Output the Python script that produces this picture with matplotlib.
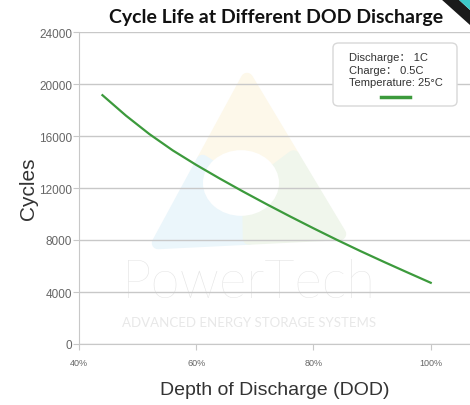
import matplotlib
matplotlib.use("Agg")
import matplotlib.pyplot as plt
from matplotlib.patches import Polygon, Circle, FancyBboxPatch

# values
dod = [44, 48, 52, 56, 60, 64, 68, 72, 76, 80, 84, 88, 92, 96, 100]
cycles = [19140, 17570, 16150, 14890, 13775, 12730, 11725, 10755, 9815,
          8900, 8010, 7150, 6320, 5510, 4710]
x_ticks = [40, 60, 80, 100]
x_ticklabels = ["40%", "60%", "80%", "100%"]
y_ticks = [0, 4000, 8000, 12000, 16000, 20000, 24000]
legend_lines = ["Discharge\uff1a 1C", "Charge\uff1a 0.5C", "Temperature: 25\u00b0C"]

W, H = 470, 406
plt.rcParams['font.family'] = ['Liberation Sans', 'Noto Sans CJK SC', 'DejaVu Sans']

fig = plt.figure(figsize=(W / 100, H / 100), dpi=100)


def fx(px):
    return px / W


def fy(py):
    return 1 - py / H


ax = fig.add_axes([fx(79), fy(345), fx(470) - fx(79), fy(33) - fy(345)])
ax.set_xlim(40, 106.7)
ax.set_ylim(0, 24000)

# faint logo watermark
A, B, C = (247, 80), (158, 244), (340, 235)
G = ((A[0] + B[0] + C[0]) / 3, (A[1] + B[1] + C[1]) / 3 + 5)
mid = lambda p, q: ((p[0] + q[0]) / 2, (p[1] + q[1]) / 2)
petals = [
    ([G, mid(A, B), A, mid(A, C)], "#fdf8ea"),
    ([G, mid(A, B), B, mid(B, C)], "#ebf6fb"),
    ([G, mid(B, C), C, mid(A, C)], "#f0f6ec"),
]
for pts, col in petals:
    fig.patches.append(Polygon([(fx(p[0]), fy(p[1])) for p in pts], closed=True,
                               transform=fig.transFigure, facecolor=col,
                               edgecolor=col, lw=9, joinstyle="round", zorder=0.5))
fig.patches.append(Circle((fx(241), fy(184)), fx(38), transform=fig.transFigure,
                          facecolor="white", edgecolor="none", zorder=0.6))
ax.set_facecolor("none")
ax.set_zorder(2)

fig.text(fx(249), fy(284), "PowerTech", fontsize=38, color="#e4e4e4",
         ha="center", va="center", family="Lato", fontweight="light", zorder=0.7)
fig.text(fx(249), fy(323), "ADVANCED ENERGY STORAGE SYSTEMS", fontsize=9.5,
         color="#e8e8e8", ha="center", va="center", family="Lato", zorder=0.7)

ax.plot(dod, cycles, color="#3c9a3c", lw=1.6, zorder=3)

ax.set_yticks(y_ticks)
ax.set_yticklabels([str(v) for v in y_ticks])
ax.set_xticks(x_ticks)
ax.set_xticklabels(x_ticklabels)
ax.grid(axis="y", color="#c8c8c8", lw=1)
ax.set_axisbelow(True)
for s in ["top", "right"]:
    ax.spines[s].set_visible(False)
for s in ["left", "bottom"]:
    ax.spines[s].set_color("#c8c8c8")
ax.tick_params(axis="y", colors="#c8c8c8", labelcolor="#666666", labelsize=8.5,
               length=4, pad=1)
ax.tick_params(axis="x", colors="#c8c8c8", labelcolor="#666666", labelsize=6.5,
               length=4, pad=6)

ax.set_ylabel("Cycles", fontsize=15, color="#333333", labelpad=1)
ax.set_xlabel("Depth of Discharge (DOD)", fontsize=14, color="#333333", labelpad=10)

fig.text(fx(276), fy(17), "Cycle Life at Different DOD Discharge", fontsize=14,
         fontweight="bold", color="#111111", ha="center", va="center",
         family="Lato")

# legend box
box = FancyBboxPatch((fx(333), fy(107)), fx(457) - fx(333), fy(44) - fy(107),
                     boxstyle="round,pad=0,rounding_size=0.012",
                     transform=fig.transFigure, facecolor="white",
                     edgecolor="#d8d8d8", lw=1, zorder=5)
fig.patches.append(box)
for i, t in enumerate(legend_lines):
    fig.text(fx(349), fy(58 + 12.5 * i), t, fontsize=8, color="#333333",
             ha="left", va="center", zorder=6)
fig.lines.append(plt.Line2D([fx(381), fx(410)], [fy(98), fy(98)],
                            transform=fig.transFigure, color="#3c9a3c",
                            lw=2.5, zorder=6))

# corner ribbon
fig.patches.append(Polygon([(fx(441), fy(0)), (fx(458), fy(0)), (fx(470), fy(11)),
                            (fx(470), fy(26))], transform=fig.transFigure,
                           facecolor="#1a1a1a", edgecolor="none", zorder=7))
fig.patches.append(Polygon([(fx(458), fy(0)), (fx(470), fy(0)), (fx(470), fy(11))],
                           transform=fig.transFigure, facecolor="#3cc8c8",
                           edgecolor="none", zorder=7))

fig.savefig("out.png", dpi=100)
